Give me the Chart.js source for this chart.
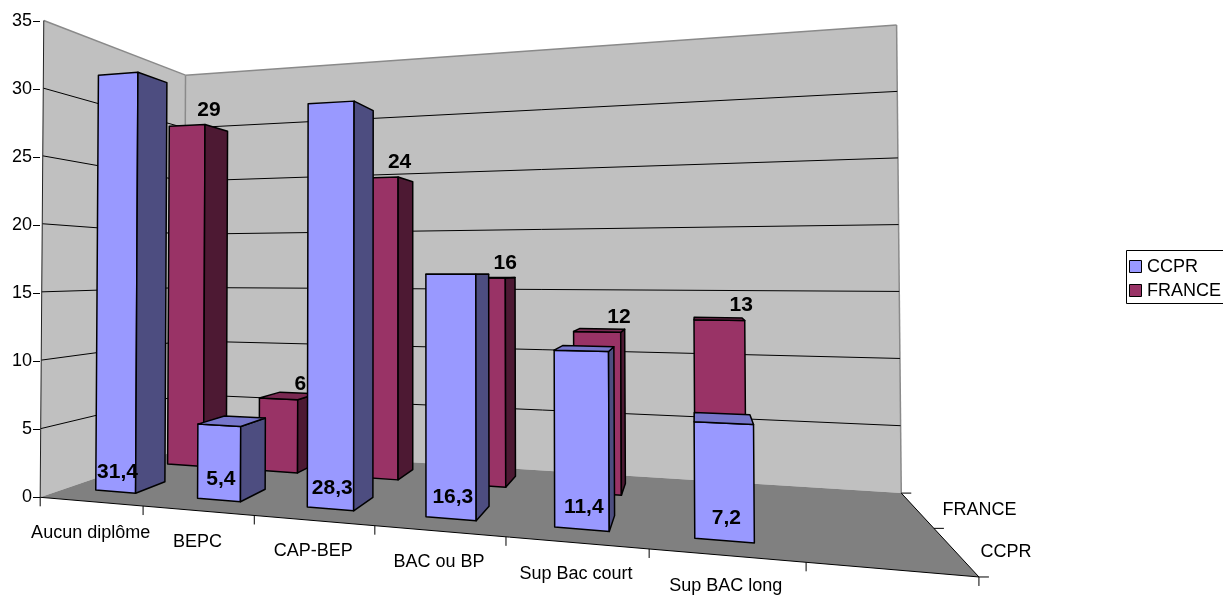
<!DOCTYPE html>
<html>
<head>
<meta charset="utf-8">
<script src="https://cdn.jsdelivr.net/npm/chart.js@4.4.1/dist/chart.umd.min.js"></script>
<style>
  html, body { margin: 0; padding: 0; background: #fff; }
  #wrap { width: 1223px; height: 596px; position: relative; }
</style>
</head>
<body>
<div id="wrap"><canvas id="chart"></canvas></div>
<script>
const categories = ['Aucun diplôme', 'BEPC', 'CAP-BEP', 'BAC ou BP', 'Sup Bac court', 'Sup BAC long'];
const seriesNames = ['CCPR', 'FRANCE'];
const ccprValues = [31.4, 5.4, 28.3, 16.3, 11.4, 7.2];
const franceValues = [29, 6, 24, 16, 12, 13];
const yMax = 35;
const yStep = 5;

const FONT = "'Liberation Sans', Arial, sans-serif";
Chart.defaults.font.family = FONT;

// the 3d box: 7 slots wide, 2 rows deep, 0..35 high
// anchors tie box corners (slot, value, row) to where they sit on the page
const SLOTS = 7, ROWS = 2;
const anchors = [
    [0, 0, 0, 40, 497], [1, 0, 0, 143, 506], [2, 0, 0, 254, 515], [3, 0, 0, 374, 526],
    [4, 0, 0, 506, 537], [5, 0, 0, 649, 549], [6, 0, 0, 807, 562], [7, 0, 0, 980, 577],
    [0, 35, 0, 44, 21], [0, 30, 0, 44, 89], [0, 5, 0, 40, 428],
    [0, 35, 2, 185, 74], [0, 30, 2, 185, 128], [0, 0, 2, 185, 449],
    [7, 35, 2, 897, 25], [7, 30, 2, 897, 92], [7, 0, 2, 901, 493], [7, 0, 1, 933, 528]
];

const colors = [
    { front: '#9999ff', side: '#4d4d80', top: '#7777cc' },
    { front: '#993366', side: '#4d1933', top: '#7a2952' }
];

function fitCamera(pts) {
    const N = 11;
    const M = Array.from({ length: N }, () => new Array(N).fill(0));
    const r = new Array(N).fill(0);
    const add = (row, b) => {
        for (let i = 0; i < N; i++) {
            r[i] += row[i] * b;
            for (let k = 0; k < N; k++) M[i][k] += row[i] * row[k];
        }
    };
    pts.forEach(([X, Y, Z, u, v]) => {
        X /= SLOTS; Y /= yMax; Z /= ROWS; u /= 1000; v /= 1000;
        add([X, Y, Z, 1, 0, 0, 0, 0, -u * X, -u * Y, -u * Z], u);
        add([0, 0, 0, 0, X, Y, Z, 1, -v * X, -v * Y, -v * Z], v);
    });
    for (let c = 0; c < N; c++) {
        let p = c;
        for (let i = c + 1; i < N; i++) if (Math.abs(M[i][c]) > Math.abs(M[p][c])) p = i;
        [M[c], M[p]] = [M[p], M[c]];
        [r[c], r[p]] = [r[p], r[c]];
        for (let i = 0; i < N; i++) {
            if (i === c) continue;
            const f = M[i][c] / M[c][c];
            for (let k = c; k < N; k++) M[i][k] -= f * M[c][k];
            r[i] -= f * r[c];
        }
    }
    const p = r.map((v, i) => v / M[i][i]);
    return (X, Y, Z) => {
        X /= SLOTS; Y /= yMax; Z /= ROWS;
        const w = p[8] * X + p[9] * Y + p[10] * Z + 1;
        return [1000 * (p[0] * X + p[1] * Y + p[2] * Z + p[3]) / w,
                1000 * (p[4] * X + p[5] * Y + p[6] * Z + p[7]) / w];
    };
}
const P = fitCamera(anchors);

function poly(ctx, pts) {
    ctx.beginPath();
    pts.forEach((p, i) => i ? ctx.lineTo(p[0], p[1]) : ctx.moveTo(p[0], p[1]));
    ctx.closePath();
}
function line(ctx, a, b) {
    ctx.beginPath();
    ctx.moveTo(a[0], a[1]);
    ctx.lineTo(b[0], b[1]);
    ctx.stroke();
}

function drawBox(ctx, x0, x1, y0, y1, z0, z1, col) {
    const faces = [
        [[x0, y0, z0], [x0, y1, z0], [x1, y1, z0], [x1, y0, z0], col.front],
        [[x1, y0, z0], [x1, y1, z0], [x1, y1, z1], [x1, y0, z1], col.side],
        [[x0, y0, z0], [x0, y0, z1], [x0, y1, z1], [x0, y1, z0], col.side],
        [[x0, y1, z0], [x0, y1, z1], [x1, y1, z1], [x1, y1, z0], col.top]
    ];
    const area = pts => {
        let s = 0;
        for (let i = 0; i < pts.length; i++) {
            const a = pts[i], b = pts[(i + 1) % pts.length];
            s += a[0] * b[1] - b[0] * a[1];
        }
        return s;
    };
    let ref = null;
    ctx.strokeStyle = '#000';
    ctx.lineWidth = 1.5;
    ctx.lineJoin = 'round';
    faces.forEach(f => {
        const pts = f.slice(0, 4).map(v => P(...v));
        const s = area(pts);
        if (ref === null) ref = Math.sign(s);
        if (Math.sign(s) !== ref || Math.abs(s) < 1) return;
        poly(ctx, pts);
        ctx.fillStyle = f[4];
        ctx.fill();
        ctx.stroke();
    });
}

const view3d = {
    id: 'view3d',
    beforeDatasetsDraw(chart) {
        const ctx = chart.ctx;
        const area = chart.chartArea;
        const xs = chart.scales.x, ys = chart.scales.y;
        const slot = (area.right - area.left) / categories.length;
        const toX = px => (px - area.left) / slot;

        ctx.save();
        // walls and floor
        ctx.fillStyle = '#c0c0c0';
        poly(ctx, [P(0, 0, 0), P(0, yMax, 0), P(0, yMax, ROWS), P(0, 0, ROWS)]); ctx.fill();
        poly(ctx, [P(0, 0, ROWS), P(0, yMax, ROWS), P(SLOTS, yMax, ROWS), P(SLOTS, 0, ROWS)]); ctx.fill();
        ctx.fillStyle = '#808080';
        poly(ctx, [P(0, 0, 0), P(SLOTS, 0, 0), P(SLOTS, 0, ROWS), P(0, 0, ROWS)]); ctx.fill();

        ctx.strokeStyle = '#8a8a8a';
        ctx.lineWidth = 1.5;
        line(ctx, P(0, yMax, 0), P(0, yMax, ROWS));
        line(ctx, P(0, yMax, ROWS), P(SLOTS, yMax, ROWS));
        line(ctx, P(SLOTS, yMax, ROWS), P(SLOTS, 0, ROWS));
        line(ctx, P(0, yMax, ROWS), P(0, 0, ROWS));

        // gridlines from the value axis ticks
        ctx.strokeStyle = '#000';
        ctx.lineWidth = 1;
        ys.ticks.forEach(t => {
            if (t.value <= 0 || t.value >= yMax) return;
            ctx.beginPath();
            const a = P(0, t.value, 0), b = P(0, t.value, ROWS), c = P(SLOTS, t.value, ROWS);
            ctx.moveTo(a[0], a[1]); ctx.lineTo(b[0], b[1]); ctx.lineTo(c[0], c[1]);
            ctx.stroke();
        });

        // axis edges and ticks
        ctx.strokeStyle = '#222';
        line(ctx, P(0, 0, 0), P(0, yMax, 0));
        ctx.strokeStyle = '#000';
        line(ctx, P(0, 0, 0), P(SLOTS, 0, 0));
        line(ctx, P(SLOTS, 0, 0), P(SLOTS, 0, ROWS));
        for (let i = 0; i <= SLOTS; i++) {
            const p = P(i, 0, 0);
            line(ctx, p, [p[0], p[1] + 9]);
        }
        for (let z = 0; z <= ROWS; z++) {
            const p = P(SLOTS, 0, z);
            line(ctx, p, [p[0] + 10, p[1]]);
        }

        // bars, back row first
        const bars = [];
        for (let d = chart.data.datasets.length - 1; d >= 0; d--) {
            const meta = chart.getDatasetMeta(d);
            meta.data.forEach((el, j) => {
                const { x, y, base, width } = el.getProps(['x', 'y', 'base', 'width'], true);
                const b = {
                    d, j,
                    x0: toX(x - width / 2), x1: toX(x + width / 2), xc: toX(x),
                    v0: ys.getValueForPixel(base), v1: ys.getValueForPixel(y),
                    z0: d + 0.3, z1: d + 0.7
                };
                drawBox(ctx, b.x0, b.x1, b.v0, b.v1, b.z0, b.z1, colors[d]);
                bars.push(b);
            });
        }

        // value labels
        ctx.fillStyle = '#000';
        ctx.font = 'bold 21px ' + FONT;
        ctx.textAlign = 'center';
        ctx.textBaseline = 'middle';
        bars.forEach(b => {
            const txt = String(chart.data.datasets[b.d].data[b.j]).replace('.', ',');
            if (b.d === 0) {
                const f = P(b.xc, b.v0, b.z0), m = P(b.xc, b.v0, (b.z0 + b.z1) / 2);
                ctx.fillText(txt, f[0] + 2, m[1] - 14);
            } else {
                const t = P(b.xc, b.v1, b.z0);
                ctx.fillText(txt, t[0] + 22, t[1] - 15);
            }
        });

        // category labels along the front edge
        ctx.font = '18px ' + FONT;
        categories.forEach((c, j) => {
            const p = P(toX(xs.getPixelForValue(j)), 0, 0);
            ctx.fillText(c, p[0], p[1] + 31);
        });
        // series labels along the depth edge
        ctx.textAlign = 'left';
        seriesNames.forEach((s, d) => {
            const p = P(SLOTS, 0, d + 0.5);
            ctx.fillText(s, p[0] + 26, p[1] + 1);
        });

        // legend
        ctx.strokeStyle = '#000';
        ctx.lineWidth = 1;
        ctx.strokeRect(1126.5, 250.5, 120, 53);
        seriesNames.forEach((s, d) => {
            const cy = 267 + d * 24;
            ctx.fillStyle = colors[d].front;
            ctx.fillRect(1129.5, cy - 6.5, 12, 12);
            ctx.strokeRect(1129.5, cy - 6.5, 12, 12);
            ctx.fillStyle = '#000';
            ctx.fillText(s, 1147, cy);
        });
        ctx.restore();
        return false;
    }
};

new Chart(document.getElementById('chart'), {
    type: 'bar',
    data: {
        labels: categories,
        datasets: [
            { label: seriesNames[0], data: ccprValues, backgroundColor: colors[0].front },
            { label: seriesNames[1], data: franceValues, backgroundColor: colors[1].front }
        ]
    },
    options: {
        responsive: true,
        maintainAspectRatio: false,
        animation: false,
        layout: { padding: { top: 21, bottom: 99, left: 0, right: 323 } },
        datasets: { bar: { grouped: false, categoryPercentage: 1, barPercentage: 0.4 } },
        plugins: { legend: { display: false }, tooltip: { enabled: false } },
        scales: {
            x: { display: false, offset: true },
            y: {
                min: 0, max: yMax,
                ticks: { stepSize: yStep, color: '#000', font: { size: 18 }, padding: 1 },
                grid: { drawOnChartArea: false, drawTicks: true, tickLength: 7, color: '#000' },
                border: { display: false },
                afterFit(s) { s.width = 40; }
            }
        }
    },
    plugins: [view3d]
});
</script>
</body>
</html>
